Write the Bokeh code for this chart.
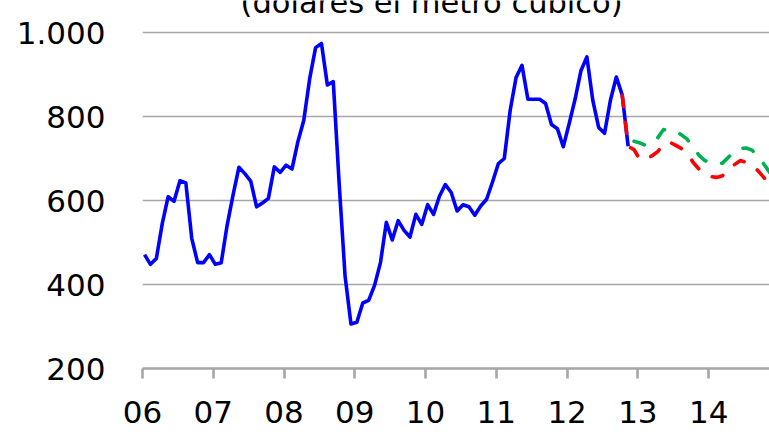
import numpy as np
from bokeh.plotting import figure
from bokeh.models import FixedTicker, Label, Range1d
from bokeh.embed import file_html
from bokeh.resources import INLINE

# Monthly price, Jan 2006 .. Nov 2012 (dollars per cubic metre)
blue_values = [471, 448, 462, 545, 609, 598, 647, 642, 510, 452, 452, 471,
               448, 452, 541, 613, 679, 664, 646, 585, 594, 605, 680, 667,
               684, 675, 740, 791, 890, 964, 974, 875, 883, 640, 420, 306,
               310, 356, 362, 398, 452, 548, 506, 552, 529, 513, 567, 543,
               590, 567, 610, 638, 619, 575, 590, 585, 565, 587, 603, 644,
               688, 700, 815, 893, 922, 841, 841, 841, 831, 781, 771, 728,
               783, 841, 909, 942, 839, 774, 760, 839, 894, 851, 729]
# Forecast scenarios (red starts Oct 2012, green starts Dec 2012)
red_start = 81
red_values = [850, 729, 721, 697, 699, 706, 716, 735, 739, 732, 724, 714,
              691, 675, 663, 657, 655, 659, 674, 685, 695, 691, 686, 671,
              655, 641]
green_start = 83
green_values = [741, 737, 731, 738, 749, 769, 767, 764, 757, 746, 727, 708,
                695, 690, 688, 689, 703, 717, 724, 725, 720, 705, 687, 667]

year_ticks = [2006, 2007, 2008, 2009, 2010, 2011, 2012, 2013, 2014]
year_labels = ["06", "07", "08", "09", "10", "11", "12", "13", "14"]
y_ticks = [200, 400, 600, 800, 1000]
y_labels = ["200", "400", "600", "800", "1.000"]
title_text = "(dólares el metro cúbico)"

def month_to_x(idx):
    return 2006 + (np.asarray(idx) + 0.35) / 12.0

x_blue = month_to_x(np.arange(len(blue_values)))
x_red = month_to_x(np.arange(red_start, red_start + len(red_values)))
x_green = month_to_x(np.arange(green_start, green_start + len(green_values)))

FONT = "DejaVu Sans"
GRID = "#a6a6a6"

# frame reaches the top of the canvas so the (top-clipped) title can be drawn inside it
p = figure(width=769, height=432, output_backend="svg", toolbar_location=None,
           x_range=Range1d(2006, 2014.86), y_range=Range1d(200, 1076.2),
           min_border_left=142, min_border_right=0, min_border_top=0,
           min_border_bottom=64)
p.outline_line_color = None
p.background_fill_color = "white"
p.border_fill_color = "white"

p.xgrid.grid_line_color = None
p.ygrid.ticker = FixedTicker(ticks=[t for t in y_ticks if t > 200])
p.ygrid.grid_line_color = GRID
p.ygrid.grid_line_width = 1.6

p.yaxis.ticker = FixedTicker(ticks=y_ticks)
p.yaxis.major_label_overrides = {t: l for t, l in zip(y_ticks, y_labels)}
p.yaxis.axis_line_color = None
p.yaxis.major_tick_line_color = None
p.yaxis.minor_tick_line_color = None
p.yaxis.major_label_standoff = 31
p.yaxis.major_label_text_font = FONT
p.yaxis.major_label_text_font_size = "31px"
p.yaxis.major_label_text_color = "black"

p.xaxis.ticker = FixedTicker(ticks=year_ticks)
p.xaxis.major_label_overrides = {t: l for t, l in zip(year_ticks, year_labels)}
p.xaxis.axis_line_color = GRID
p.xaxis.axis_line_width = 2.6
p.xaxis.major_tick_line_color = GRID
p.xaxis.major_tick_line_width = 2.6
p.xaxis.major_tick_in = 0
p.xaxis.major_tick_out = 10
p.xaxis.minor_tick_line_color = None
p.xaxis.major_label_standoff = 22
p.xaxis.major_label_text_font = FONT
p.xaxis.major_label_text_font_size = "31px"
p.xaxis.major_label_text_color = "black"

p.line(x_blue, blue_values, line_color="#0000ff", line_width=3.6, line_join="round")
p.line(x_red, red_values, line_color="#ff0000", line_width=3.6,
       line_dash="11 16", line_cap="round", line_join="round")
p.line(x_green, green_values, line_color="#00b050", line_width=3.6,
       line_dash="11 16", line_cap="round", line_join="round")

title = Label(x=2010.085, y=1071.4, text=title_text, text_align="center",
              text_baseline="alphabetic", text_font=FONT,
              text_font_size="30.5px", text_color="black")
p.add_layout(title)

open("out.html", "w").write(file_html(p, INLINE))
